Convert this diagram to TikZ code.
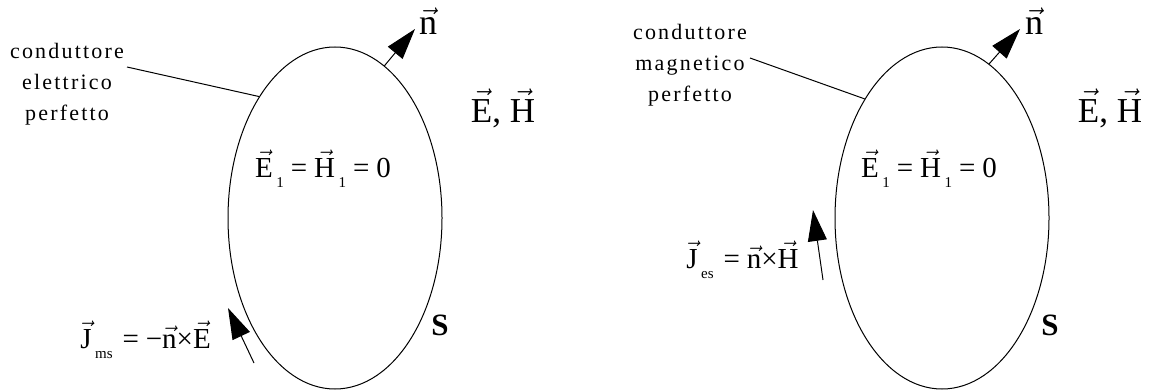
\documentclass[tikz,border=0pt]{standalone}
\usepackage{fontspec}
\setmainfont{Liberation Serif}
\newfontfamily\spacedfont[LetterSpace=10]{Liberation Serif}
\usepackage{graphicx}
\usetikzlibrary{arrows.meta,shapes.geometric}
\newcommand\vv[1]{\ensuremath{\vec{\hbox{#1}}}}
\newcommand\subs[1]{\hspace{0.12em}\raisebox{-0.36em}{\fontsize{7.5}{8}\selectfont #1}}
\newcommand\eqsp{\hspace{0.24em}}
\begin{document}
\begin{tikzpicture}[x=0.5pt,y=-0.5pt,
  surf/.style={draw, ellipse, line width=0.5pt, minimum width=107pt, minimum height=171pt, inner sep=0pt},
  big/.style={-{Triangle[length=15.5pt,width=9.5pt]}, line width=0.5pt},
  thinline/.style={line width=0.5pt},
  lbl/.style={font=\spacedfont\fontsize{11}{15.5}\selectfont, align=center, anchor=base, inner sep=0pt},
  eq/.style={font=\fontsize{14.5}{16}\selectfont, inner sep=0pt},
  big text/.style={font=\fontsize{18}{20}\selectfont, anchor=base, inner sep=0pt},
  sname/.style={font=\fontsize{15.5}{18}\selectfont\bfseries, anchor=base, inner sep=0pt}]
\useasboundingbox (0,0) rectangle (1150,390);
% left
\node[surf] (L) at (335,218) {};
\coordinate (nLtip) at (415,29);
\draw[big] (L.72.6) -- (nLtip);
\node[big text] (nL) at (428,35) {\vv{n}};
\node[big text, font=\fontsize{17.5}{19}\selectfont] (EHL) at (503,122) {\vv{E}, \vv{H}};
\node[lbl] (labL) at (67,120) {conduttore\\elettrico\\perfetto};
\coordinate (leadL) at (127,67);
\draw[thinline] (leadL) -- (L.122.3);
\node[eq, anchor=base] (eqL) at (323,177) {\vv{E}\subs{1}\eqsp=\eqsp\vv{H}\subs{1}\eqsp=\eqsp0};
\coordinate (jL0) at (254,363);
\coordinate (jL1) at (228,308);
\draw[big] (jL0) -- (jL1);
\node[eq, anchor=base west] (jLt) at (80,348) {\vv{J}\subs{ms}\eqsp\hspace{0.1em}=\eqsp−\vv{n}×\vv{E}};
\node[sname] (SL) at (440,335) {S};
% right
\node[surf] (R) at (942,218) {};
\coordinate (nRtip) at (1020,29);
\draw[big] (R.73.6) -- (nRtip);
\node[big text] (nR) at (1034,35) {\vv{n}};
\node[big text, font=\fontsize{17.5}{19}\selectfont] (EHR) at (1110,122) {\vv{E}, \vv{H}};
\node[lbl] (labR) at (690,102) {conduttore\\magnetico\\perfetto};
\coordinate (leadR) at (750,58);
\draw[thinline] (leadR) -- (R.123);
\node[eq, anchor=base] (eqR) at (929,177) {\vv{E}\subs{1}\eqsp=\eqsp\vv{H}\subs{1}\eqsp=\eqsp0};
\coordinate (jR0) at (823,280);
\coordinate (jR1) at (813,210);
\draw[big] (jR0) -- (jR1);
\node[eq, anchor=base west] (jRt) at (686,268) {\vv{J}\subs{es}\eqsp\hspace{0.1em}=\eqsp\vv{n}×\vv{H}};
\node[sname] (SR) at (1050,335) {S};
\end{tikzpicture}
\end{document}
